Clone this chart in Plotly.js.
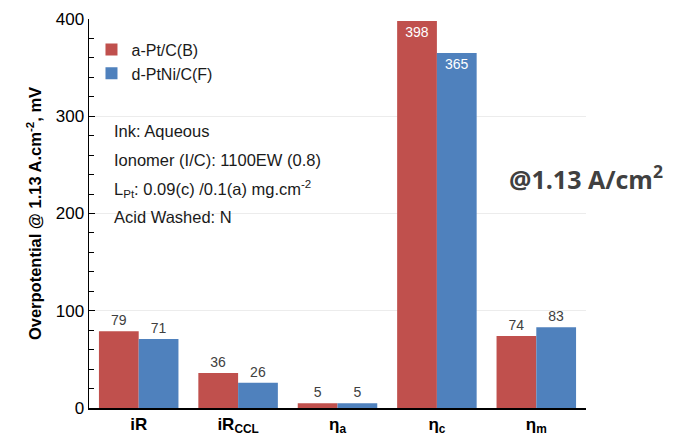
<!DOCTYPE html>
<html><head><meta charset="utf-8">
<script src="https://cdn.plot.ly/plotly-3.0.1.min.js"></script>
<style>body{margin:0;background:#fff}#chart{width:683px;height:441px}</style>
</head><body><div id="chart"></div>
<script>
var categories = ['iR', 'iR_CCL', 'eta_a', 'eta_c', 'eta_m'];
var tickLabels = ['iR', 'iR<sub>CCL</sub>', 'η<sub>a</sub>', 'η<sub>c</sub>', 'η<sub>m</sub>'];
var seriesNames = ['a-Pt/C(B)', 'd-PtNi/C(F)'];
var aPtC = [79, 36, 5, 398, 74];
var dPtNiC = [71, 26, 5, 365, 83];
var infoLines = ['Ink: Aqueous', 'Ionomer (I/C): 1100EW (0.8)', 'L<sub>Pt</sub>: 0.09(c) /0.1(a) mg.cm<sup>-2</sup>', 'Acid Washed: N'];

function pos(v){ return v.map(function(x){ return x > 300 ? 'inside' : 'outside'; }); }
function col(v){ return v.map(function(x){ return x > 300 ? '#ffffff' : '#404040'; }); }

var traces = [
  {type:'bar', name:seriesNames[0], x:categories, y:aPtC, marker:{color:'#C0504D'},
   text:aPtC.map(String), textposition:pos(aPtC), insidetextanchor:'end',
   textfont:{size:14, color:col(aPtC), family:'Liberation Sans, Arial'}, cliponaxis:false},
  {type:'bar', name:seriesNames[1], x:categories, y:dPtNiC, marker:{color:'#4F81BD'},
   text:dPtNiC.map(String), textposition:pos(dPtNiC), insidetextanchor:'end',
   textfont:{size:14, color:col(dPtNiC), family:'Liberation Sans, Arial'}, cliponaxis:false}
];

var annotations = infoLines.map(function(t, i){
  return {xref:'paper', yref:'paper', x:0.046, y:0.712 - i*0.074, xanchor:'left', yanchor:'middle',
    text:t, showarrow:false, font:{size:16.5, color:'#1a1a1a', family:'Liberation Sans, Arial'}};
});
annotations.push({xref:'paper', yref:'paper', x:1.0, y:0.593, xanchor:'center', yanchor:'middle',
  text:'<b>@1.13 A/cm<sup>2</sup></b>', showarrow:false, font:{size:25, color:'#404040', family:'Open Sans, Liberation Sans'}});

var layout = {
  width:683, height:441,
  margin:{l:89, r:97, t:19, b:33},
  paper_bgcolor:'#fff', plot_bgcolor:'#fff',
  barmode:'group', bargap:0.2, bargroupgap:0,
  font:{family:'Liberation Sans, Arial', color:'#000'},
  showlegend:true,
  legend:{x:0.005, y:0.965, xanchor:'left', yanchor:'top', font:{size:16, color:'#1a1a1a'},
    bgcolor:'rgba(0,0,0,0)', itemwidth:30, tracegroupgap:0},
  xaxis:{type:'category', tickvals:categories, ticktext:tickLabels,
    showline:true, linecolor:'#000', linewidth:1.5, ticks:'',
    tickfont:{size:17, color:'#000', family:'Liberation Sans, Arial', weight:'bold'}, fixedrange:true},
  yaxis:{range:[0,400], dtick:100, showline:true, linecolor:'#000', linewidth:1.5,
    ticks:'inside', ticklen:6, tickcolor:'#000',
    minor:{dtick:20, ticks:'inside', ticklen:5, tickcolor:'#000', showgrid:false},
    showgrid:true, gridcolor:'#ececec', gridwidth:1, zeroline:false,
    tickfont:{size:17, color:'#000'},
    title:{text:'<b>Overpotential @ 1.13 A.cm<sup>-2</sup>, mV</b>', font:{size:16.5, color:'#000'}, standoff:10}},
  annotations:annotations
};
Plotly.newPlot('chart', traces, layout, {displayModeBar:false, staticPlot:true});
</script></body></html>
